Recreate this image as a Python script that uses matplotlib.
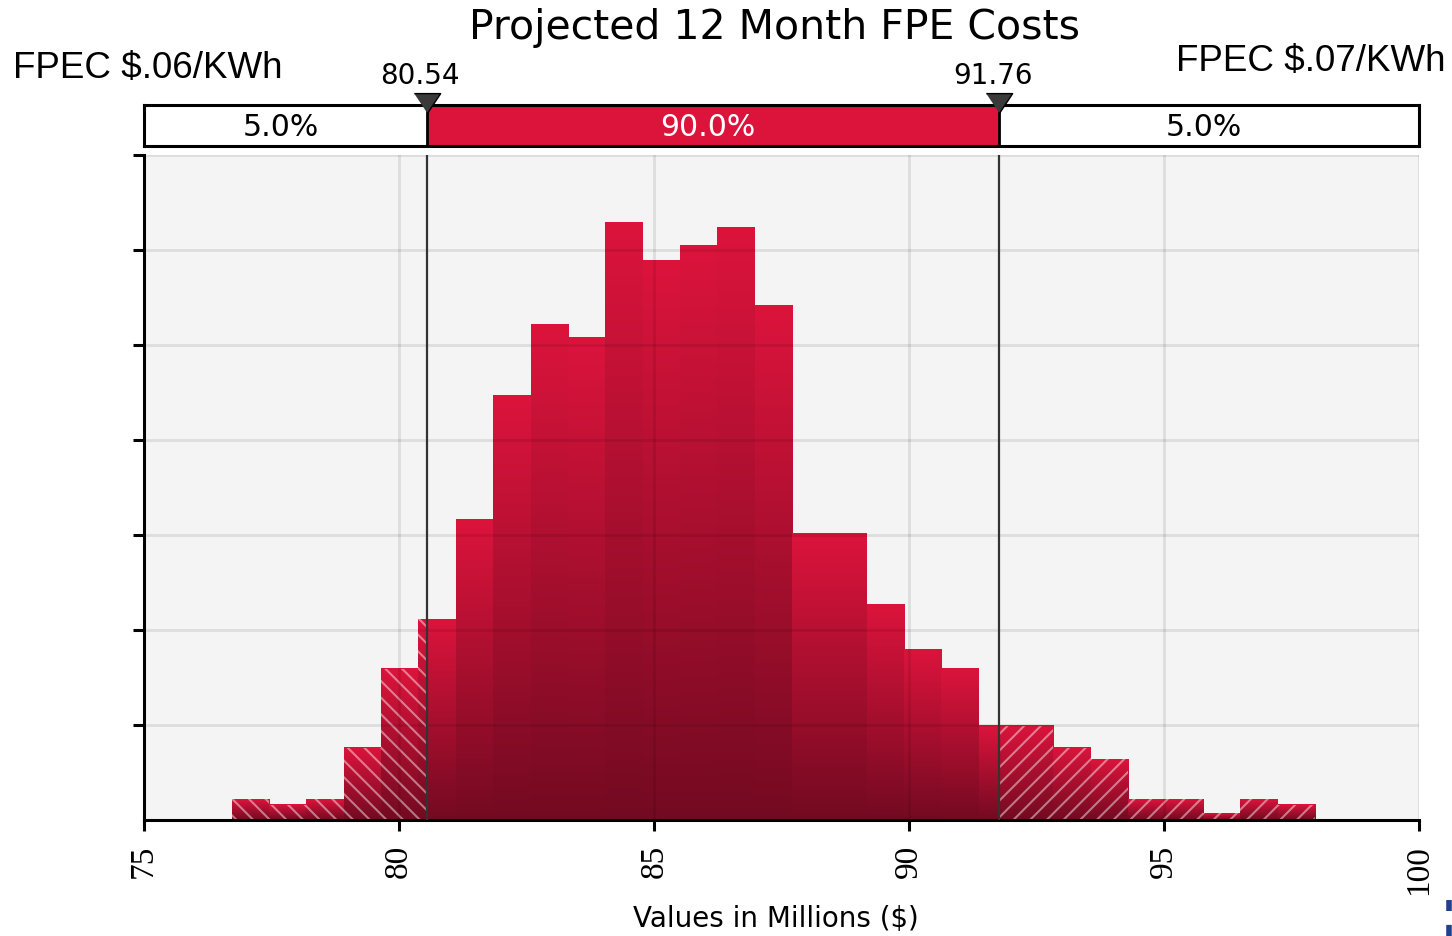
import numpy as np
import matplotlib
matplotlib.use("Agg")
import matplotlib.pyplot as plt
from matplotlib.colors import LinearSegmentedColormap
from matplotlib.lines import Line2D

# histogram of simulated 12 month FPE costs (millions $)
bin_lo, bin_hi = 76.72, 97.96
heights = [0.22, 0.16, 0.22, 0.76, 1.59, 2.11, 3.16, 4.47, 5.21, 5.07,
           6.29, 5.89, 6.04, 6.23, 5.41, 3.01, 3.01, 2.27, 1.79, 1.59,
           0.99, 0.99, 0.76, 0.64, 0.22, 0.22, 0.07, 0.22, 0.16]
p5, p95 = 80.54, 91.76
pct_labels = ["5.0%", "90.0%", "5.0%"]
xticks = [75, 80, 85, 90, 95, 100]

W, H = 1452, 936
fig = plt.figure(figsize=(W / 100, H / 100), dpi=100)
plt.rcParams['hatch.linewidth'] = 1.5

ax = fig.add_axes([144 / W, 1 - 820 / H, (1419 - 144) / W, (820 - 154.5) / H])
ax.set_facecolor('#f4f4f4')

cmap = LinearSegmentedColormap.from_list('bar', ['#730a21', '#dc143c'])
grad = np.linspace(1, 0, 256).reshape(-1, 1)
edges = np.linspace(bin_lo, bin_hi, len(heights) + 1)

for i, h in enumerate(heights):
    l, r = edges[i], edges[i + 1]
    ax.imshow(grad, extent=[l, r, 0, h], aspect='auto', cmap=cmap,
              interpolation='bicubic', zorder=2)
    # hatch the tail parts of the bin
    if l < p5:
        ax.bar(l, h, width=min(r, p5) - l, align='edge', facecolor='none',
               edgecolor=(1, 1, 1, 0.45), hatch='\\\\', linewidth=0, zorder=2.2)
    if r > p95:
        a = max(l, p95)
        ax.bar(a, h, width=r - a, align='edge', facecolor='none',
               edgecolor=(1, 1, 1, 0.45), hatch='//', linewidth=0, zorder=2.2)

ax.set_xlim(75, 100)
ax.set_ylim(0, 7)
ax.set_xticks(xticks)
ax.set_xticklabels([str(t) for t in xticks], rotation=90,
                   family='Liberation Serif', fontsize=24)
ax.set_yticks(range(1, 8))
ax.set_yticklabels([])
ax.tick_params(axis='both', direction='out', length=8, width=2.2, color='black')
ax.tick_params(axis='x', pad=10)
ax.grid(True, color='black', alpha=0.09, linewidth=2)
ax.set_axisbelow(False)
for s in ['top', 'right']:
    ax.spines[s].set_visible(False)
for s in ['left', 'bottom']:
    ax.spines[s].set_linewidth(2.2)

for v in (p5, p95):
    ax.axvline(v, color='#333333', linewidth=1.6, zorder=4)

# percentile bar on top
axb = fig.add_axes([144 / W, 1 - 146 / H, (1419 - 144) / W, 41 / H])
axb.set_xlim(75, 100)
axb.set_ylim(0, 1)
axb.axvspan(p5, p95, color='#dc143c', zorder=1)
for v in (p5, p95):
    axb.axvline(v, color='black', linewidth=2, zorder=2)
axb.set_xticks([])
axb.set_yticks([])
for s in axb.spines.values():
    s.set_linewidth(2.2)
centers = [(75 + p5) / 2, (p5 + p95) / 2, (p95 + 100) / 2]
colors = ['black', 'white', 'black']
for c, lab, col in zip(centers, pct_labels, colors):
    axb.annotate(lab, (c, 0.244), xytext=(-3.5, 0), textcoords='offset points',
                 ha='center', va='baseline', fontsize=21.5, color=col,
                 family='DejaVu Sans')
tri = [(-1, 0.75), (1, 0.75), (0, -0.75)]
for v in (p5, p95):
    axb.plot([v], [1.05], marker=tri, markersize=19, color='#3a3a3a',
             markeredgecolor='black', markeredgewidth=1, clip_on=False, zorder=5)
    axb.annotate(f"{v:.2f}", (v, 1.5), xytext=(-4.5, 0),
                 textcoords='offset points', ha='center', va='baseline',
                 fontsize=20, family='DejaVu Sans', annotation_clip=False)

fig.text(774.5 / W, 1 - 39 / H, "Projected 12 Month FPE Costs", ha='center',
         va='baseline', fontsize=29.5, family='DejaVu Sans')
fig.text(13 / W, 1 - 78 / H, "FPEC $.06/KWh", ha='left', va='baseline',
         fontsize=26.5, family='Liberation Sans')
fig.text(1446 / W, 1 - 71 / H, "FPEC $.07/KWh", ha='right', va='baseline',
         fontsize=26.5, family='Liberation Sans')
fig.text(776 / W, 1 - 927 / H, "Values in Millions ($)", ha='center',
         va='baseline', fontsize=20, family='DejaVu Sans')

# small logo fragment in the corner
fig.add_artist(Line2D([1449 / W, 1449 / W], [0, 36 / H], color='#1f3f8f',
                      linewidth=4, dashes=(2, 2.5)))

fig.savefig('out.png', dpi=100)
